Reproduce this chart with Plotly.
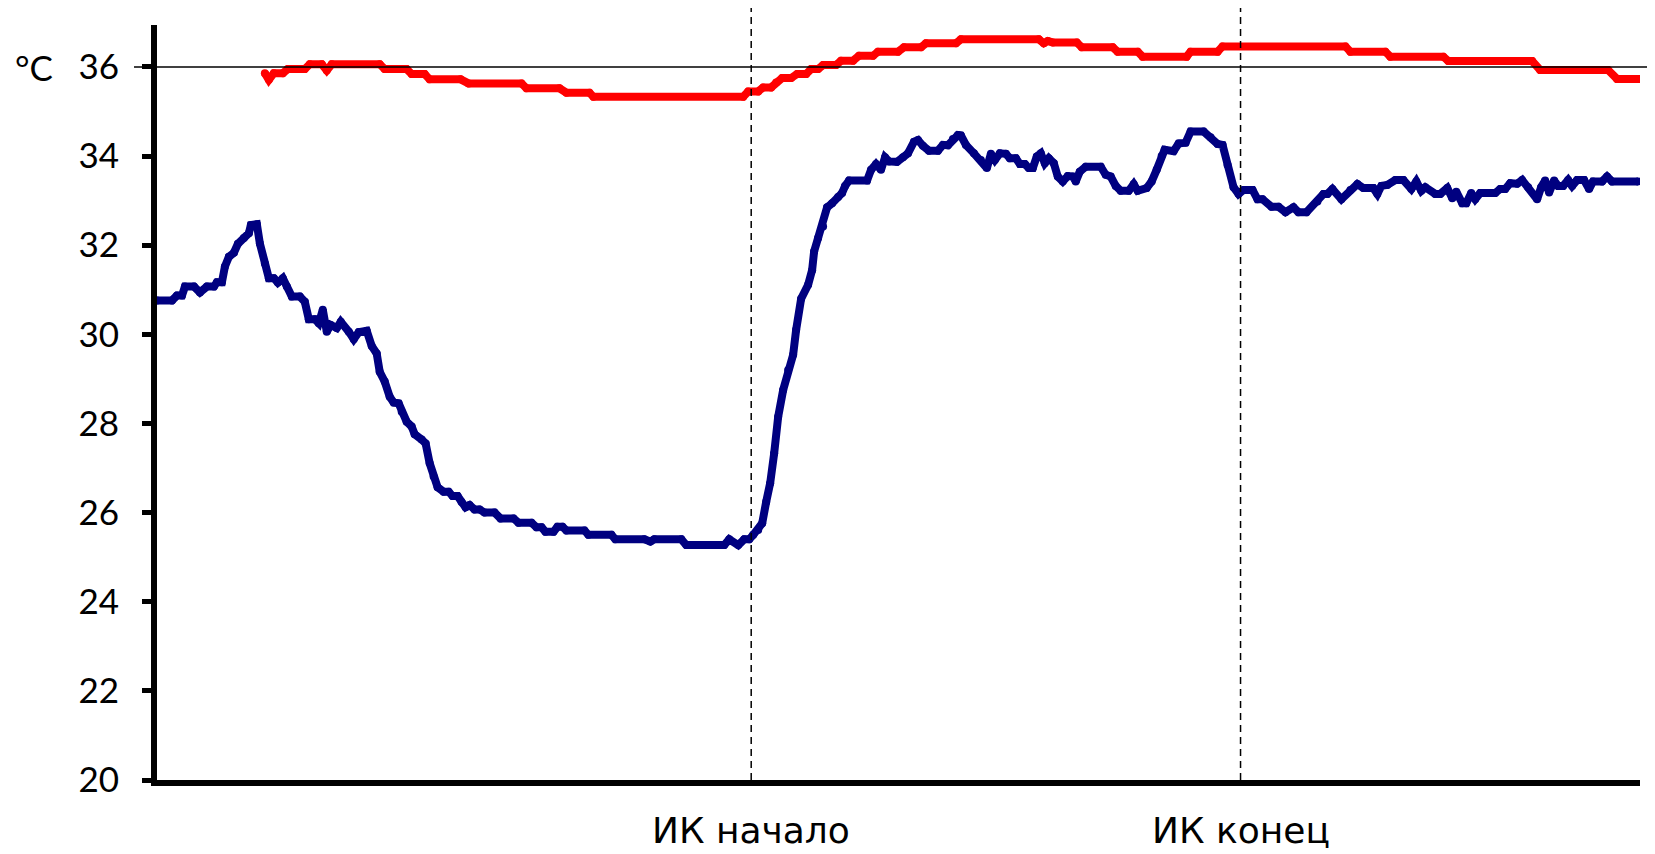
import plotly.graph_objects as go

# time in seconds from start of record, temperatures in °C
blue_t = [0, 15, 20, 25, 28, 37, 43, 50, 57, 60,
          65, 68, 72, 77, 81, 87, 92, 94, 100, 103,
          108, 112, 117, 121, 126, 130, 135, 143, 148, 152,
          158, 162, 166, 170, 174, 180, 184, 192, 197, 202,
          210, 215, 220, 223, 228, 233, 237, 242, 245, 250,
          255, 258, 265, 269, 273, 277, 281, 287, 292, 296,
          301, 305, 309, 313, 318, 323, 328, 338, 344, 357,
          362, 375, 380, 385, 389, 397, 401, 406, 410, 428,
          432, 455, 459, 488, 494, 498, 525, 530, 568, 573,
          582, 588, 593, 597, 602, 606, 610, 614, 618, 622,
          627, 632, 637, 640, 645, 652, 656, 658, 662, 667,
          671, 676, 682, 686, 689, 693, 711, 715, 720, 725,
          729, 733, 741, 747, 752, 758, 762, 767, 773, 782,
          787, 792, 797, 802, 805, 810, 818, 825, 831, 835,
          839, 844, 850, 854, 860, 864, 869, 873, 877, 881,
          885, 889, 893, 898, 902, 907, 912, 917, 920, 924,
          930, 945, 950, 955, 960, 965, 973, 978, 982, 991,
          996, 1001, 1006, 1009, 1018, 1023, 1030, 1035, 1048, 1055,
          1062, 1067, 1072, 1078, 1083, 1088, 1097, 1102, 1107, 1116,
          1123, 1130, 1138, 1143, 1151, 1162, 1168, 1172, 1177, 1186,
          1195, 1202, 1208, 1218, 1222, 1226, 1232, 1240, 1248, 1256,
          1261, 1266, 1270, 1280, 1285, 1292, 1297, 1301, 1307, 1311,
          1316, 1320, 1325, 1340, 1345, 1350, 1355, 1362, 1367, 1373,
          1382, 1386, 1390, 1394, 1399, 1403, 1408, 1413, 1417, 1422,
          1429, 1434, 1438, 1447, 1452, 1457, 1483]
blue_v = [30.76, 30.76, 30.87, 30.87, 31.07, 31.07, 30.94, 31.07, 31.07, 31.17,
          31.17, 31.52, 31.74, 31.83, 32.03, 32.16, 32.27, 32.45, 32.47, 32.04,
          31.59, 31.26, 31.26, 31.16, 31.26, 31.07, 30.85, 30.85, 30.73, 30.34,
          30.34, 30.25, 30.55, 30.06, 30.21, 30.14, 30.28, 30.06, 29.89, 30.05,
          30.08, 29.74, 29.57, 29.16, 28.94, 28.60, 28.47, 28.45, 28.26, 28.04,
          27.93, 27.76, 27.64, 27.55, 27.11, 26.81, 26.57, 26.47, 26.47, 26.37,
          26.37, 26.24, 26.12, 26.17, 26.07, 26.07, 26.00, 26.00, 25.87, 25.87,
          25.77, 25.77, 25.67, 25.67, 25.57, 25.57, 25.68, 25.68, 25.60, 25.60,
          25.50, 25.50, 25.40, 25.40, 25.35, 25.40, 25.40, 25.27, 25.27, 25.40,
          25.27, 25.40, 25.40, 25.50, 25.61, 25.76, 26.24, 26.66, 27.33, 28.15,
          28.75, 29.20, 29.54, 30.10, 30.80, 31.11, 31.44, 31.86, 32.16, 32.42,
          32.85, 32.94, 33.08, 33.17, 33.33, 33.45, 33.45, 33.69, 33.82, 33.69,
          33.97, 33.88, 33.87, 33.97, 34.06, 34.32, 34.36, 34.23, 34.12, 34.12,
          34.25, 34.24, 34.38, 34.47, 34.46, 34.25, 34.06, 33.91, 33.73, 34.05,
          33.91, 34.06, 34.05, 33.95, 33.95, 33.82, 33.82, 33.73, 33.73, 33.99,
          34.06, 33.84, 33.95, 33.84, 33.54, 33.43, 33.55, 33.54, 33.43, 33.65,
          33.76, 33.76, 33.58, 33.54, 33.33, 33.22, 33.22, 33.37, 33.22, 33.28,
          33.43, 33.69, 34.00, 34.14, 34.11, 34.28, 34.30, 34.55, 34.55, 34.42,
          34.27, 34.25, 33.80, 33.30, 33.15, 33.24, 33.24, 33.03, 33.03, 32.86,
          32.86, 32.74, 32.85, 32.74, 32.74, 32.98, 33.15, 33.15, 33.26, 33.03,
          33.24, 33.37, 33.28, 33.28, 33.15, 33.33, 33.35, 33.46, 33.46, 33.26,
          33.43, 33.22, 33.30, 33.15, 33.15, 33.28, 33.05, 33.20, 32.94, 32.94,
          33.17, 33.03, 33.17, 33.17, 33.26, 33.26, 33.39, 33.38, 33.46, 33.30,
          33.03, 33.30, 33.45, 33.18, 33.45, 33.33, 33.33, 33.46, 33.33, 33.46,
          33.46, 33.26, 33.43, 33.43, 33.54, 33.43, 33.43]

red_t = [108, 112, 117, 126, 131, 148, 153, 165, 170, 175,
         223, 228, 250, 255, 268, 273, 304, 312, 365, 370,
         403, 410, 433, 437, 587, 592, 602, 607, 615, 620,
         626, 635, 641, 650, 655, 662, 667, 680, 685, 697,
         703, 717, 722, 742, 748, 765, 770, 800, 805, 883,
         888, 892, 897, 921, 926, 957, 962, 982, 987, 1031,
         1035, 1062, 1067, 1190, 1195, 1230, 1235, 1288, 1293, 1377,
         1385, 1453, 1462, 1485]
red_v = [35.86, 35.71, 35.86, 35.86, 35.95, 35.95, 36.06, 36.06, 35.92, 36.06,
         36.06, 35.95, 35.95, 35.84, 35.84, 35.72, 35.72, 35.63, 35.63, 35.52,
         35.52, 35.42, 35.42, 35.33, 35.33, 35.45, 35.45, 35.54, 35.54, 35.65,
         35.75, 35.75, 35.84, 35.84, 35.95, 35.95, 36.04, 36.04, 36.14, 36.14,
         36.25, 36.25, 36.34, 36.34, 36.44, 36.44, 36.53, 36.53, 36.62, 36.62,
         36.53, 36.58, 36.55, 36.55, 36.44, 36.44, 36.34, 36.34, 36.23, 36.23,
         36.34, 36.34, 36.46, 36.46, 36.34, 36.34, 36.23, 36.23, 36.13, 36.13,
         35.93, 35.93, 35.73, 35.73]

events_t = [595, 1085]
events_lbl = ["ИК начало", "ИК конец"]
ref_temp = 36
y_ticks = [20, 22, 24, 26, 28, 30, 32, 34, 36]

FONT = "Century Gothic, URW Gothic, Lato, sans-serif"

fig = go.Figure()
fig.add_trace(go.Scatter(x=blue_t, y=blue_v, mode="lines+markers",
                         line=dict(color="#000080", width=8),
                         marker=dict(color="#000080", size=8)))
fig.add_trace(go.Scatter(x=red_t, y=red_v, mode="lines+markers",
                         line=dict(color="#ff0000", width=8),
                         marker=dict(color="#ff0000", size=8)))

fig.add_shape(type="line", xref="paper", yref="y", x0=-0.0155, x1=1.0094,
              y0=ref_temp, y1=ref_temp, line=dict(color="black", width=1.5))
for t, lbl in zip(events_t, events_lbl):
    fig.add_shape(type="line", xref="x", yref="paper", x0=t, x1=t, y0=0, y1=1.023,
                  line=dict(color="black", width=1.5, dash="7px,5px"))
    fig.add_annotation(x=t, xref="x", y=-0.0675, yref="paper", text=lbl,
                       showarrow=False, xanchor="center", yanchor="middle",
                       font=dict(size=36, color="black",
                                 family="Century Gothic, DejaVu Sans, sans-serif"))

fig.add_annotation(x=-0.083, xref="paper", y=ref_temp, yref="y", text="°C",
                   showarrow=False, xanchor="center", yanchor="middle",
                   font=dict(size=35, color="black", family=FONT))

fig.update_layout(
    width=1647, height=846,
    margin=dict(l=149, r=15, t=17, b=74),
    paper_bgcolor="white", plot_bgcolor="white",
    showlegend=False,
    font=dict(family=FONT, color="black"),
)
fig.update_xaxes(range=[0, 1485], showline=True, linecolor="black", linewidth=6,
                 showgrid=False, zeroline=False, showticklabels=False, ticks="")
fig.update_yaxes(range=[20, 36.94], tickvals=y_ticks, showline=True,
                 linecolor="black", linewidth=6, showgrid=False, zeroline=False,
                 ticks="outside", ticklen=9, tickwidth=5, tickcolor="black",
                 ticklabelstandoff=16, tickfont=dict(size=35, color="black"))

fig.write_html("out.html")
